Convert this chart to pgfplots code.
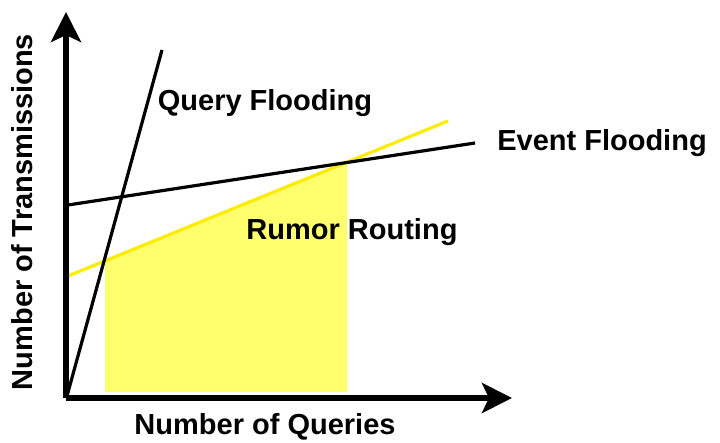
\documentclass[border=0pt]{standalone}
\usepackage{pgfplots}
\pgfplotsset{compat=1.18}
\usepackage{fontspec}
\setmainfont{Liberation Sans}
\usetikzlibrary{arrows.meta}
\definecolor{yline}{RGB}{252,236,0}
\definecolor{yfill}{RGB}{255,255,110}
\begin{document}
\begin{tikzpicture}
\begin{axis}[x=1pt,y=1pt,
  xmin=0,xmax=446,ymin=0,ymax=386,
  axis lines=left, ticks=none,
  axis line style={line width=5.5pt, -{Stealth[length=30pt,width=30pt,inset=7pt]}},
  clip=false, axis on top]
\addplot[fill=yfill, draw=none] coordinates {(39,6) (39,137) (281,236) (281,6)} -- cycle;
\addplot[yline, line width=3.2pt] coordinates {(2,122) (382,277)};
\addplot[black, line width=3.2pt] coordinates {(2,193) (409,255)};
\addplot[black, line width=3.2pt] coordinates {(1,2) (96,348)};
\node[font=\fontsize{29}{33}\selectfont\bfseries] at (axis cs:199,295) {Query Flooding};
\node[font=\fontsize{29}{33}\selectfont\bfseries] at (axis cs:536,255) {Event Flooding};
\node[font=\fontsize{29}{33}\selectfont\bfseries] at (axis cs:286,166) {Rumor Routing};
\node[font=\fontsize{29}{33}\selectfont\bfseries] at (axis cs:199,-29) {Number of Queries};
\node[font=\fontsize{29}{33}\selectfont\bfseries, rotate=90] at (axis cs:-44,186) {Number of Transmissions};
\path (axis cs:-66,-44) coordinate (bl) (axis cs:654,398) coordinate (tr);
\end{axis}
\pgfresetboundingbox
\path (bl) rectangle (tr);
\end{tikzpicture}
\end{document}
